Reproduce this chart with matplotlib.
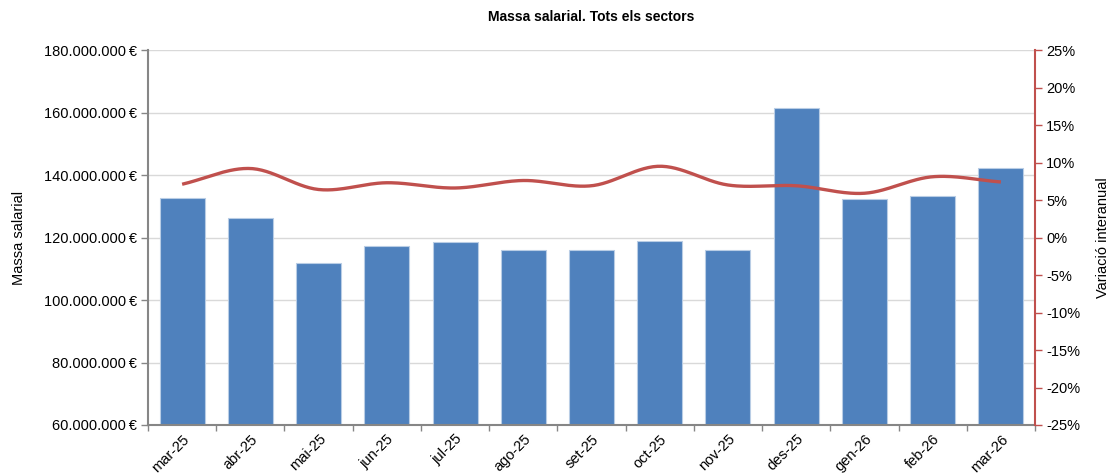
import numpy as np
import matplotlib
matplotlib.use("Agg")
import matplotlib.pyplot as plt
from matplotlib.ticker import FixedLocator, FuncFormatter

plt.rcParams['font.family'] = ['Liberation Sans', 'DejaVu Sans']

categories = ["mar-25", "abr-25", "mai-25", "jun-25", "jul-25", "ago-25", "set-25",
              "oct-25", "nov-25", "des-25", "gen-26", "feb-26", "mar-26"]
massa_salarial = [132.6e6, 126.2e6, 111.7e6, 117.4e6, 118.6e6, 116.1e6, 116.1e6,
                  119.0e6, 116.1e6, 161.4e6, 132.2e6, 133.4e6, 142.1e6]
variacio = [7.1, 9.2, 6.4, 7.3, 6.6, 7.6, 6.9, 9.5, 7.0, 6.9, 5.9, 8.1, 7.4]

title = "Massa salarial. Tots els sectors"
ylabel_left = "Massa salarial"
ylabel_right = "Variació interanual"


def catmull_rom(x, y, n=30):
    x = np.asarray(x, float); y = np.asarray(y, float)
    px = np.concatenate([[2 * x[0] - x[1]], x, [2 * x[-1] - x[-2]]])
    py = np.concatenate([[2 * y[0] - y[1]], y, [2 * y[-1] - y[-2]]])
    xs, ys = [], []
    for i in range(1, len(px) - 2):
        t = np.linspace(0, 1, n, endpoint=False)
        for arr, out in ((px, xs), (py, ys)):
            p0, p1, p2, p3 = arr[i - 1], arr[i], arr[i + 1], arr[i + 2]
            out.append(0.5 * ((2 * p1) + (-p0 + p2) * t + (2 * p0 - 5 * p1 + 4 * p2 - p3) * t ** 2
                              + (-p0 + 3 * p1 - 3 * p2 + p3) * t ** 3))
    xs.append([x[-1]]); ys.append([y[-1]])
    return np.concatenate(xs), np.concatenate(ys)


fig = plt.figure(figsize=(11.12, 4.76), dpi=100)
ax = fig.add_axes([148 / 1112, 1 - 425 / 476, (1035 - 148) / 1112, (425 - 50) / 476])

x = np.arange(len(categories))
ax.bar(x, massa_salarial, width=0.66, color="#4F81BD", edgecolor="#B9CDE5", linewidth=0.8, zorder=2)
ax.set_xlim(-0.5, len(categories) - 0.5)
ax.set_ylim(60e6, 180e6)
ax.set_yticks(np.arange(60e6, 180e6 + 1, 20e6))
ax.yaxis.set_major_formatter(FuncFormatter(lambda v, p: f"{int(round(v)):,}".replace(",", ".") + "\u2009€"))
ax.grid(axis="y", color="#D9D9D9", linewidth=1.0, zorder=0)
ax.set_axisbelow(True)

ax.set_xticks(x)
ax.set_xticklabels(categories, rotation=45, ha="right", rotation_mode="anchor", fontsize=10.5)
ax.xaxis.set_minor_locator(FixedLocator(np.arange(-0.5, len(categories), 1.0)))
ax.tick_params(axis="x", which="major", length=0, pad=5)
ax.tick_params(axis="x", which="minor", length=4, color="#868686", width=1)
ax.tick_params(axis="y", length=5, color="#868686", width=1, labelsize=10.5, pad=3)

for s in ("top", "right"):
    ax.spines[s].set_visible(False)
for s in ("left", "bottom"):
    ax.spines[s].set_color("#868686")
    ax.spines[s].set_linewidth(1.5)

ax.set_ylabel(ylabel_left, fontsize=10.5, labelpad=13)
ax.set_title(title, fontsize=10, fontweight="bold", pad=21)

ax2 = ax.twinx()
xs, ys = catmull_rom(x, variacio)
ax2.plot(xs, ys, color="#C0504D", linewidth=2.4, solid_capstyle="butt", zorder=3)
ax2.set_ylim(-25, 25)
ax2.set_yticks(np.arange(-25, 26, 5))
ax2.yaxis.set_major_formatter(FuncFormatter(lambda v, p: f"{int(round(v))}%"))
ax2.tick_params(axis="y", length=5, color="#C0504D", width=1, labelsize=10.5, pad=3)
for s in ("top", "left", "bottom"):
    ax2.spines[s].set_visible(False)
ax2.spines["right"].set_color("#C0504D")
ax2.spines["right"].set_linewidth(1.5)
ax2.set_ylabel(ylabel_right, fontsize=10.5, labelpad=11)

fig.savefig("out.png", dpi=100)
